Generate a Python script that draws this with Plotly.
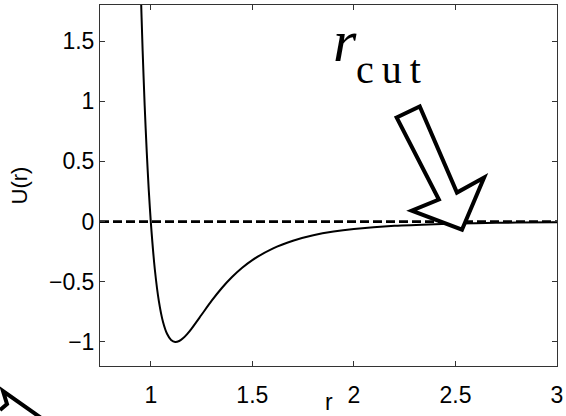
import plotly.graph_objects as go

# Data: U(r) curve
r_vals = [0.94, 0.95, 0.96, 0.97, 0.98, 0.99, 1.00, 1.02, 1.04, 1.06, 1.08, 1.10,
          1.12, 1.14, 1.16, 1.18, 1.20, 1.25, 1.30, 1.35, 1.40, 1.45, 1.50, 1.60,
          1.70, 1.80, 1.90, 2.00, 2.20, 2.40, 2.60, 2.80, 3.00]
u_vals = [2.606, 1.961, 1.418, 0.963, 0.582, 0.264, 0.000, -0.398, -0.663, -0.832,
          -0.932, -0.983, -1.000, -0.992, -0.968, -0.933, -0.891, -0.774, -0.657,
          -0.552, -0.461, -0.384, -0.320, -0.224, -0.159, -0.114, -0.083, -0.062,
          -0.035, -0.021, -0.013, -0.008, -0.0055]

zero_x = [0.75, 3.0]
zero_y = [0.0, 0.0]

x_ticks = [1, 1.5, 2, 2.5, 3]
x_ticklabels = ["1", "1.5", "2", "2.5", "3"]
y_ticks = [-1, -0.5, 0, 0.5, 1, 1.5]
y_ticklabels = ["\u22121", "\u22120.5", "0", "0.5", "1", "1.5"]

x_range = [0.75, 3.0]
y_range = [-1.2, 1.8]

# Hollow arrow outline (data coordinates) pointing at r_cut
arrow_x = [2.2104, 2.3243, 2.5074, 2.6411, 2.5322, 2.2847, 2.4183]
arrow_y = [0.865, 0.957, 0.241, 0.366, -0.067, 0.0915, 0.183]

# Fragment of another arrow at bottom-left (paper coordinates)
frag_x = [-0.2188, -0.2035, -0.2123, -0.1225]
frag_y = [-0.122, -0.1053, -0.0693, -0.1496]

fig = go.Figure()
fig.add_trace(go.Scatter(x=zero_x, y=zero_y, mode="lines",
                         line=dict(color="black", width=2.6, dash="9px,4px"),
                         hoverinfo="skip", showlegend=False))
fig.add_trace(go.Scatter(x=r_vals, y=u_vals, mode="lines",
                         line=dict(color="black", width=2, shape="spline", smoothing=0.6),
                         showlegend=False))

path = "M " + " L ".join(f"{x},{y}" for x, y in zip(arrow_x, arrow_y)) + " Z"
fig.add_shape(type="path", path=path, xref="x", yref="y",
              line=dict(color="black", width=4), fillcolor="white", layer="above")

fpath = "M " + " L ".join(f"{x},{y}" for x, y in zip(frag_x, frag_y))
fig.add_shape(type="path", path=fpath, xref="paper", yref="paper",
              line=dict(color="black", width=4), fillcolor="rgba(0,0,0,0)", layer="above")

fig.add_annotation(xref="paper", yref="paper", x=(345 - 100) / 457, y=(366 - 41) / 361,
                   text="<i>r</i>", showarrow=False, xanchor="center", yanchor="middle",
                   font=dict(family="Liberation Serif, Times New Roman, serif", size=60, color="black"))
fig.add_annotation(xref="paper", yref="paper", x=(388 - 100) / 457, y=(366 - 70) / 361,
                   text="c\u2009u\u2009t", showarrow=False, xanchor="center", yanchor="middle",
                   font=dict(family="Liberation Serif, Times New Roman, serif", size=40, color="black"))
# x-axis title
fig.add_annotation(xref="paper", yref="paper", x=0.5, y=(366 - 416) / 361,
                   text="r", showarrow=False, xanchor="center", yanchor="bottom",
                   borderpad=0, font=dict(size=23, color="black"))

axis_common = dict(showline=True, linecolor="#333333", linewidth=1, mirror="ticks",
                   ticks="inside", ticklen=5, tickcolor="#333333", showgrid=False,
                   zeroline=False, automargin=False, tickfont=dict(size=23, color="black"))
fig.update_xaxes(range=x_range, tickvals=x_ticks, ticktext=x_ticklabels,
                 ticklabelstandoff=8, **axis_common)
fig.update_yaxes(range=y_range, tickvals=y_ticks, ticktext=y_ticklabels,
                 title=dict(text="U(r)", font=dict(size=22, color="black")),
                 **axis_common)
fig.update_layout(width=566, height=416, margin=dict(l=100, r=9, t=5, b=50),
                  plot_bgcolor="white", paper_bgcolor="white",
                  font=dict(family="Liberation Sans, Arial, Helvetica, sans-serif", color="black"))
fig.write_html("out.html")
